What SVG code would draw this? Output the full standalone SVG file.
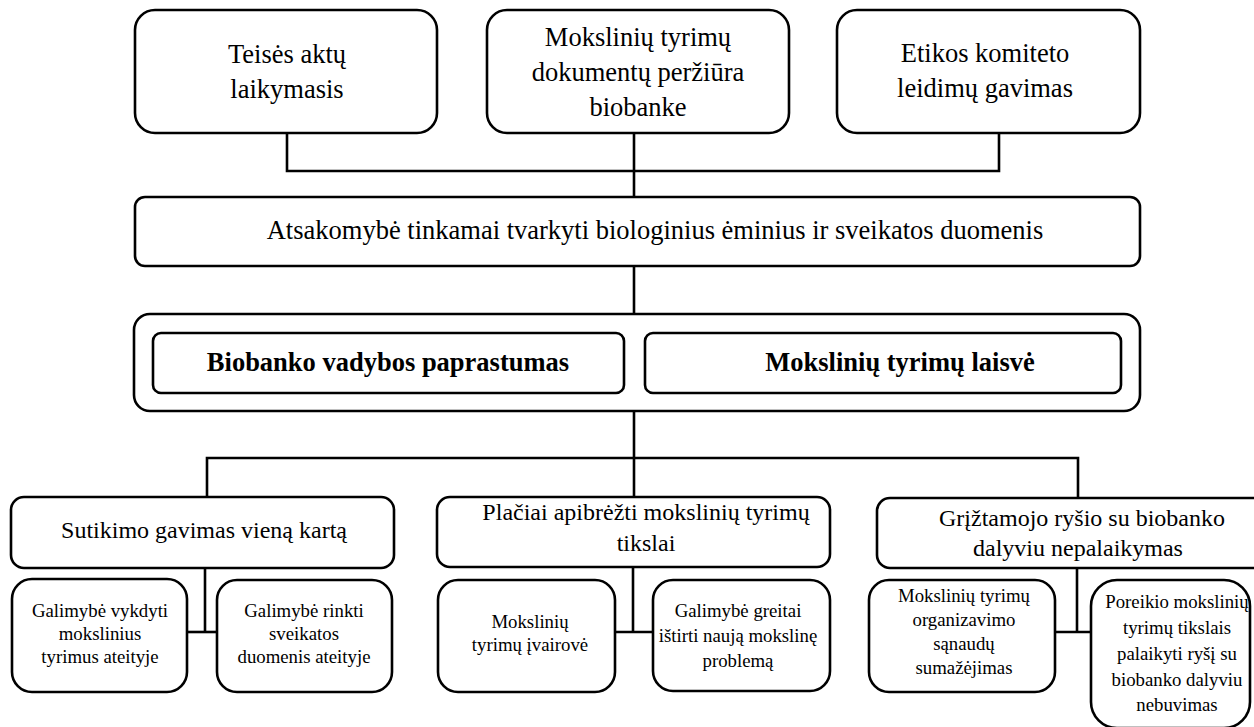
<svg xmlns="http://www.w3.org/2000/svg" width="1254" height="727" viewBox="0 0 1254 727">
  <style>
    .box { fill: #ffffff; stroke: #000000; stroke-width: 2.6; }
    .wire { fill: none; stroke: #000000; stroke-width: 2.6; }
    text { font-family: "Liberation Serif", "Times New Roman", serif; fill: #000000; text-anchor: middle; }
    .big { font-size: 26.5px; }
    .bold { font-size: 26.5px; font-weight: bold; }
    .mid { font-size: 24px; }
    .small { font-size: 18.8px; }
  </style>
  <rect width="1254" height="727" fill="#ffffff"/>

  <!-- connectors -->
  <g id="connectors">
    <polyline class="wire" points="287,133 287,171 999,171 999,133"/>
    <line class="wire" x1="634" y1="133" x2="634" y2="197"/>
    <line class="wire" x1="634" y1="266" x2="634" y2="314"/>
    <line class="wire" x1="634" y1="410" x2="634" y2="497"/>
    <polyline class="wire" points="207,497 207,458 1078,458 1078,497"/>
    <line class="wire" x1="205" y1="568" x2="205" y2="632"/>
    <line class="wire" x1="187" y1="632" x2="217" y2="632"/>
    <line class="wire" x1="633" y1="567" x2="633" y2="632"/>
    <line class="wire" x1="615" y1="632" x2="653" y2="632"/>
    <line class="wire" x1="1077" y1="568" x2="1077" y2="632"/>
    <line class="wire" x1="1055" y1="632" x2="1091" y2="632"/>
  </g>

  <!-- top row -->
  <g id="teises-aktu">
    <rect class="box" x="135" y="10" width="302" height="123" rx="20"/>
    <text class="big" x="287" y="63">Teisės aktų</text>
    <text class="big" x="287" y="98">laikymasis</text>
  </g>
  <g id="dokumentu-perziura">
    <rect class="box" x="487" y="10" width="302" height="123" rx="20"/>
    <text class="big" x="638" y="46">Mokslinių tyrimų</text>
    <text class="big" x="638" y="81">dokumentų peržiūra</text>
    <text class="big" x="638" y="116">biobanke</text>
  </g>
  <g id="etikos-komitetas">
    <rect class="box" x="837" y="10" width="303" height="123" rx="20"/>
    <text class="big" x="985" y="62">Etikos komiteto</text>
    <text class="big" x="985" y="97">leidimų gavimas</text>
  </g>

  <!-- responsibility -->
  <g id="atsakomybe">
    <rect class="box" x="135" y="197" width="1005" height="69" rx="10"/>
    <text class="big" x="655" y="239">Atsakomybė tinkamai tvarkyti biologinius ėminius ir sveikatos duomenis</text>
  </g>

  <!-- principles -->
  <g id="principai">
    <rect class="box" x="134" y="314" width="1006" height="97" rx="16"/>
    <g id="vadybos-paprastumas">
      <rect class="box" x="153" y="333" width="471" height="60" rx="8"/>
      <text class="bold" x="388" y="371">Biobanko vadybos paprastumas</text>
    </g>
    <g id="tyrimu-laisve">
      <rect class="box" x="645" y="333" width="476" height="60" rx="8"/>
      <text class="bold" x="900" y="371">Mokslinių tyrimų laisvė</text>
    </g>
  </g>

  <!-- consent branch -->
  <g id="sutikimas">
    <rect class="box" x="11" y="497" width="383" height="71" rx="13"/>
    <text class="mid" x="204" y="538">Sutikimo gavimas vieną kartą</text>
  </g>
  <g id="vykdyti-tyrimus">
    <rect class="box" x="12" y="579" width="175" height="113" rx="20"/>
    <text class="small" x="100" y="617">Galimybė vykdyti</text>
    <text class="small" x="100" y="640">mokslinius</text>
    <text class="small" x="100" y="663">tyrimus ateityje</text>
  </g>
  <g id="rinkti-duomenis">
    <rect class="box" x="217" y="580" width="175" height="112" rx="20"/>
    <text class="small" x="304" y="617">Galimybė rinkti</text>
    <text class="small" x="304" y="640">sveikatos</text>
    <text class="small" x="304" y="663">duomenis ateityje</text>
  </g>

  <!-- purpose branch -->
  <g id="tikslai">
    <rect class="box" x="437" y="497" width="393" height="70" rx="13"/>
    <text class="mid" x="646" y="520">Plačiai apibrėžti mokslinių tyrimų</text>
    <text class="mid" x="646" y="551">tikslai</text>
  </g>
  <g id="ivairove">
    <rect class="box" x="438" y="580" width="177" height="112" rx="20"/>
    <text class="small" x="530" y="628">Mokslinių</text>
    <text class="small" x="530" y="651">tyrimų įvairovė</text>
  </g>
  <g id="nauja-problema">
    <rect class="box" x="653" y="580" width="177" height="111" rx="20"/>
    <text class="small" x="738" y="617">Galimybė greitai</text>
    <text class="small" x="738" y="642">ištirti naują mokslinę</text>
    <text class="small" x="738" y="667">problemą</text>
  </g>

  <!-- feedback branch -->
  <g id="griztamasis-rysys">
    <rect class="box" x="877" y="498" width="400" height="70" rx="13"/>
    <text class="mid" x="1082" y="526">Grįžtamojo ryšio su biobanko</text>
    <text class="mid" x="1078" y="556">dalyviu nepalaikymas</text>
  </g>
  <g id="sanaudos">
    <rect class="box" x="869" y="580" width="186" height="112" rx="20"/>
    <text class="small" x="964" y="602">Mokslinių tyrimų</text>
    <text class="small" x="964" y="626">organizavimo</text>
    <text class="small" x="964" y="650">sąnaudų</text>
    <text class="small" x="964" y="674">sumažėjimas</text>
  </g>
  <g id="rysio-poreikis">
    <rect class="box" x="1091" y="580" width="159" height="148" rx="26"/>
    <text class="small" x="1177" y="608">Poreikio mokslinių</text>
    <text class="small" x="1177" y="634">tyrimų tikslais</text>
    <text class="small" x="1177" y="660">palaikyti ryšį su</text>
    <text class="small" x="1177" y="686">biobanko dalyviu</text>
    <text class="small" x="1177" y="711">nebuvimas</text>
  </g>
</svg>
